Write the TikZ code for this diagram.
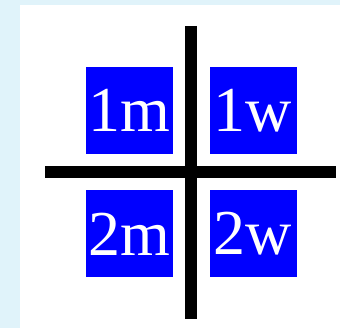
\documentclass[tikz,border=0pt]{standalone}
\usepackage{fontspec}
\setmainfont{Liberation Serif}
\usepackage{xcolor}
\usetikzlibrary{positioning}
\definecolor{pageBlue}{RGB}{224,243,250}
\definecolor{cellBlue}{RGB}{0,0,255}

\begin{document}
\begin{tikzpicture}[
  x=1pt, y=-1pt,
  cell/.style={fill=cellBlue, text=white, inner sep=0pt, minimum width=87pt, minimum height=87pt, font=\fontsize{64}{64}\selectfont},
  bar/.style={line width=12pt, black}
]
\fill[pageBlue] (0,0) rectangle (340,328);
\fill[white] (20,5) rectangle (340,328);
\useasboundingbox (0,0) rectangle (340,328);

\coordinate (top)    at (191,26);
\coordinate (bottom) at (191,319);
\coordinate (left)   at (45,172);
\coordinate (right)  at (336,172);

\node[cell] (m1) at (129.5,110.5) {1m};
\node[cell] (w1) at (253,110.5)   {1w};
\node[cell] (m2) at (129.5,234)   {2m};
\node[cell] (w2) at (253,234)     {2w};

\draw[bar] (top) -- (bottom);
\draw[bar] (left) -- (right);
\end{tikzpicture}
\end{document}
